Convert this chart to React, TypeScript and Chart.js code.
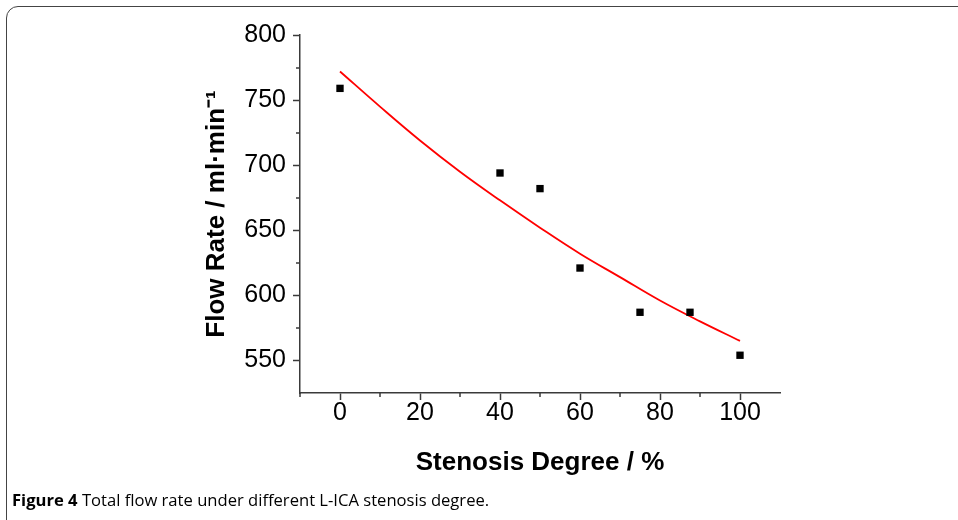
import React, { useEffect, useRef } from "react";
import { Chart, registerables } from "chart.js";

Chart.register(...registerables);

const stenosis = [0, 40, 50, 60, 75, 87.5, 100];
const flowRate = [759, 694, 682, 621, 587, 587, 554];
const fitX = [0, 10, 20, 30, 40, 50, 60, 70, 80, 90, 100];
const fitY = [772, 745, 719, 695, 673, 652, 632, 614, 596, 580, 565];
const yMinorTicks = [575, 625, 675, 725, 775];
const xMinorTicks = [-10, 10, 30, 50, 70, 90];

const AXIS_COLOR = "#3a3a3a";

const minorTickPlugin = {
  id: "minorTicks",
  afterDraw(chart: any) {
    const ctx = chart.ctx;
    const xs = chart.scales.x;
    const ys = chart.scales.y;
    ctx.save();
    ctx.strokeStyle = AXIS_COLOR;
    ctx.lineWidth = 1.5;
    ctx.beginPath();
    yMinorTicks.forEach((v) => {
      const py = Math.round(ys.getPixelForValue(v));
      ctx.moveTo(xs.left, py);
      ctx.lineTo(xs.left - 4, py);
    });
    xMinorTicks.forEach((v) => {
      const px = Math.round(xs.getPixelForValue(v));
      ctx.moveTo(px, ys.bottom);
      ctx.lineTo(px, ys.bottom + 4);
    });
    ctx.stroke();
    ctx.restore();
  },
};

export default function App() {
  const ref = useRef<HTMLCanvasElement>(null);
  useEffect(() => {
    if (!ref.current) return;
    const chart = new Chart(ref.current, {
      type: "scatter",
      data: {
        datasets: [
          {
            type: "line",
            label: "fit",
            data: fitX.map((x, i) => ({ x, y: fitY[i] })),
            borderColor: "#ff0000",
            borderWidth: 1.8,
            pointRadius: 0,
            tension: 0.4,
            fill: false,
            order: 2,
          } as any,
          {
            label: "data",
            data: stenosis.map((x, i) => ({ x, y: flowRate[i] })),
            pointStyle: "rect",
            pointRadius: 5.2,
            pointBorderWidth: 0,
            backgroundColor: "#000",
            borderColor: "#000",
            order: 1,
          },
        ],
      },
      options: {
        responsive: false,
        animation: false,
        layout: { padding: { left: 0, top: 35, right: 178, bottom: 0 } },
        plugins: { legend: { display: false }, tooltip: { enabled: false } },
        scales: {
          x: {
            type: "linear",
            min: -10,
            max: 110,
            afterFit: (s: any) => {
              s.height = 127;
            },
            border: { display: true, color: AXIS_COLOR, width: 1.5 },
            grid: {
              drawOnChartArea: false,
              drawTicks: true,
              tickLength: 7,
              tickWidth: 1.5,
              tickColor: (c: any) =>
                c.tick && c.tick.value % 20 === 0 && c.tick.value >= 0 && c.tick.value <= 100
                  ? AXIS_COLOR
                  : "rgba(0,0,0,0)",
            },
            ticks: {
              stepSize: 10,
              autoSkip: false,
              maxRotation: 0,
              padding: -2,
              color: "#000",
              font: { family: "'Liberation Sans', Arial, sans-serif", size: 25 },
              callback: (v: any) =>
                v % 20 === 0 && v >= 0 && v <= 100 ? String(v) : "",
            },
            title: {
              display: true,
              text: "Stenosis Degree / %",
              color: "#000",
              font: { family: "'Liberation Sans', Arial, sans-serif", size: 26, weight: "bold" },
              padding: { top: 0, bottom: 42 },
            },
          },
          y: {
            type: "linear",
            min: 525,
            max: 800,
            afterFit: (s: any) => {
              s.width = 300;
            },
            border: { display: true, color: AXIS_COLOR, width: 1.5 },
            grid: {
              drawOnChartArea: false,
              drawTicks: true,
              tickLength: 7,
              tickWidth: 1.5,
              tickColor: (c: any) =>
                c.tick && c.tick.value % 50 === 0 ? AXIS_COLOR : "rgba(0,0,0,0)",
            },
            ticks: {
              stepSize: 25,
              autoSkip: false,
              padding: 7,
              color: "#000",
              font: { family: "'Liberation Sans', Arial, sans-serif", size: 25 },
              callback: (v: any) => (v % 50 === 0 ? String(v) : ""),
            },
            title: {
              display: true,
              text: "Flow Rate / ml·min⁻¹",
              color: "#000",
              font: { family: "'Liberation Sans', Arial, sans-serif", size: 26, weight: "bold" },
              padding: { top: 201, bottom: 0 },
            },
          },
        },
      },
      plugins: [minorTickPlugin],
    } as any);
    return () => chart.destroy();
  }, []);

  return (
    <div
      style={{
        position: "fixed",
        left: 0,
        top: 0,
        width: 958,
        height: 520,
        overflow: "hidden",
        background: "#fff",
      }}
    >
      <div
        style={{
          position: "absolute",
          left: 6,
          top: 6,
          width: 990,
          height: 560,
          border: "1.5px solid #444",
          borderRadius: 12,
          boxSizing: "border-box",
        }}
      />
      <canvas
        ref={ref}
        width={958}
        height={520}
        style={{ position: "absolute", left: 0, top: 0 }}
      />
      <div
        style={{
          position: "absolute",
          left: 12,
          top: 489,
          fontFamily: "'Open Sans', sans-serif",
          fontSize: 16.6,
          lineHeight: "22px",
          color: "#000",
          whiteSpace: "nowrap",
        }}
      >
        <b>Figure 4</b> Total flow rate under different L-ICA stenosis degree.
      </div>
    </div>
  );
}
